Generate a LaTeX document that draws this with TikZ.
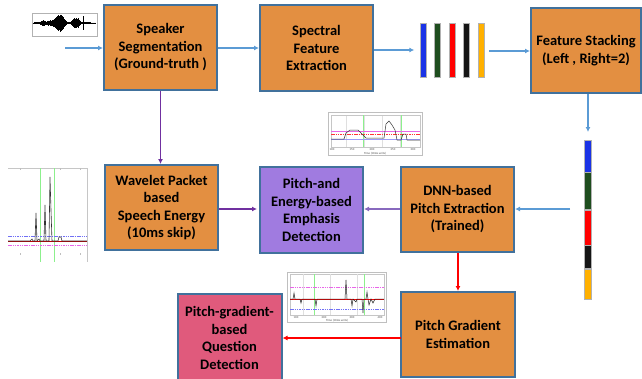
\documentclass[tikz,border=0pt]{standalone}
\usepackage{fontspec}
\setmainfont{Carlito}
\usetikzlibrary{arrows.meta}
\definecolor{boxorange}{HTML}{E38F41}
\definecolor{boxborder}{HTML}{41719C}
\definecolor{boxpurple}{HTML}{A07BE0}
\definecolor{boxpink}{HTML}{E05A7C}
\definecolor{arrblue}{HTML}{5B9BD5}
\definecolor{arrpurple}{HTML}{7030A0}
\definecolor{arrred}{HTML}{FF0000}
\definecolor{barblue}{HTML}{1A33E6}
\definecolor{bargreen}{HTML}{1E4D1E}
\definecolor{barred}{HTML}{FF0000}
\definecolor{barblack}{HTML}{151515}
\definecolor{barorange}{HTML}{FFB000}
\definecolor{plotgreen}{HTML}{8CF08C}
\definecolor{plotmag}{HTML}{E866E8}
\definecolor{plotblue}{HTML}{7070F5}
\tikzset{
  procbox/.style={draw=boxborder, line width=2pt, fill=boxorange, align=center,
    font=\bfseries\fontsize{14.5}{17.5}\selectfont, inner sep=2pt},
  barrow/.style={draw=arrblue, line width=1.6pt, -{Latex[length=5pt,width=5pt]}},
  parrow/.style={draw=arrpurple, line width=1.8pt, -{Latex[length=5pt,width=5pt]}},
  rarrow/.style={draw=arrred, line width=1.6pt, -{Latex[length=5pt,width=5pt]}},
  fbar/.style={draw=gray!60, line width=0.4pt, minimum width=6pt, minimum height=54pt, inner sep=0pt},
  vseg/.style={draw=gray!60, line width=0.4pt, minimum width=7pt, inner sep=0pt},
  plotframe/.style={draw=gray!50, line width=0.6pt, fill=white},
  tinylabel/.style={font=\fontsize{3}{3.5}\selectfont, inner sep=0pt, text=gray!60!black},
}
\begin{document}
\begin{tikzpicture}[x=1pt,y=-1pt]
\useasboundingbox (0,0) rectangle (642,378);

% ---------- boxes ----------
\node[procbox, minimum width=113pt, minimum height=85pt] (seg) at (160.5,47.5) {Speaker\\Segmentation\\(Ground-truth )};
\node[procbox, minimum width=113pt, minimum height=86pt] (spec) at (316.5,48) {Spectral\\Feature\\Extraction};
\node[procbox, minimum width=110pt, minimum height=85pt] (stack) at (586,50.5) {Feature Stacking\\(Left , Right=2)};
\node[procbox, minimum width=113pt, minimum height=85pt] (wav) at (161.5,207.5) {Wavelet Packet\\based\\Speech Energy\\(10ms skip)};
\node[procbox, fill=boxpurple, minimum width=103pt, minimum height=86pt] (emph) at (311.5,210) {Pitch-and\\Energy-based\\Emphasis\\Detection};
\node[procbox, minimum width=113pt, minimum height=85pt] (dnn) at (457.5,209.5) {DNN-based\\Pitch Extraction\\(Trained)};
\node[procbox, minimum width=114pt, minimum height=85pt] (grad) at (458,334.5) {Pitch Gradient\\Estimation};
\node[procbox, fill=boxpink, minimum width=104pt, minimum height=88pt, anchor=north] (ques) at (229.5,293) {Pitch-gradient-\\based\\Question\\Detection};

% ---------- feature bars ----------
\node[fbar, fill=barblue]   (b1) at (423.5,50) {};
\node[fbar, fill=bargreen]  (b2) at (437,50) {};
\node[fbar, fill=barred]    (b3) at (452,50) {};
\node[fbar, fill=barblack]  (b4) at (466.5,50) {};
\node[fbar, fill=barorange] (b5) at (481,50) {};

% ---------- stacked vertical bar ----------
\node[vseg, fill=barblue,   minimum height=32pt, anchor=north] (v1) at (587.5,140) {};
\node[vseg, fill=bargreen,  minimum height=37pt, anchor=north] (v2) at (v1.south) {};
\node[vseg, fill=barred,    minimum height=35pt, anchor=north] (v3) at (v2.south) {};
\node[vseg, fill=barblack,  minimum height=23pt, anchor=north] (v4) at (v3.south) {};
\node[vseg, fill=barorange, minimum height=30pt, anchor=north] (v5) at (v4.south) {};

% ---------- connectors ----------
\coordinate (in) at (65,48);
\draw[barrow] (in) -- (in -| seg.west);
\draw[barrow] (seg.east |- in) -- (spec.west |- in);
\draw[barrow] (spec.east |- 0,50) -- ([xshift=-6pt]b1.west |- 0,50);
\draw[barrow] ([xshift=5pt]b5.east |- 0,51) -- (stack.west |- 0,51);
\draw[barrow] (stack.south -| 588,0) -- ([yshift=8pt]v1.north -| 588,0);
\coordinate (vin) at (570,209);
\draw[barrow] (vin) -- (vin -| dnn.east);
\draw[parrow, draw=boxpurple!85!black] (dnn.west |- vin) -- (emph.east |- vin);
\draw[parrow] (seg.south) -- (wav.north -| seg.south);
\draw[parrow] (wav.east |- 0,209) -- ([xshift=-2pt]emph.west |- 0,209);
\draw[rarrow] (dnn.south -| 458,0) -- (grad.north -| 458,0);
\coordinate (gq) at (401,338);
\draw[rarrow] (gq) -- (gq -| ques.east);

% ---------- waveform thumbnail ----------
\draw[draw=gray!60, line width=0.6pt, fill=white] (32,13) rectangle (97,36);
\draw[line width=0.5pt] (33,23) -- (96,23);
\foreach \x/\a in {33/0.5,34/0.7,35/0.8,36/1,37/0.8,38/1,39/1,40/1.5,41/2,42/2.5,43/3,44/2.5,45/2,46/1.5,47/2,48/2.5,49/2,50/3,51/2.5,52/3,53/3.5,54/4,55/5,56/6,57/7,58/8,59/7,60/8.5,61/8,62/7,63/6,64/4,65/3,66/2,67/1,68/1,69/1.2,70/1,71/2,72/3,73/4,74/5,75/4.5,76/5,77/4,78/5,79/3,80/2,81/1,82/1,83/7,84/1,85/0.8,86/0.8,87/0.7,88/0.7,89/0.6,90/0.6,91/0.5,92/0.5,93/0.5,94/0.5,95/0.5}
  \draw[line width=0.9pt] (\x,{23-\a}) -- (\x,{23+\a});

% ---------- left energy plot ----------
\fill[white] (8,168) rectangle (87,262);
\draw[gray!45, line width=0.5pt] (8,168) -- (87,168) -- (87,262);
\foreach \x in {20,40,60,80} {\draw[gray!50, line width=0.4pt] (\x,168) -- (\x,170); \draw[gray!50, line width=0.4pt] (\x,253) -- (\x,255);}
\draw[plotgreen, line width=0.6pt] (40,168) -- (40,262);
\draw[plotgreen, line width=0.6pt] (54,168) -- (54,262);
\draw[plotblue, line width=0.7pt, dashed, dash pattern=on 1.5pt off 0.8pt] (8,236) -- (87,236);
\draw[plotmag, line width=0.7pt, dash pattern=on 1.5pt off 0.8pt] (8,245) -- (87,245);
\draw[red!75!black, line width=0.7pt] (8,241) -- (87,241);
\draw[gray!40!black, line width=0.6pt] (8,241) -- (30,241) -- (32,239) -- (33,241) -- (35,241) -- (36,213) -- (37,241) -- (39,239) -- (40,241) -- (44,241) -- (45,205) -- (46,241) -- (49,241) -- (50,177) -- (51,210) -- (52,241) -- (58,241) -- (59,237) -- (61,237) -- (62,241) -- (87,241);

% ---------- pitch plot (top) ----------
\draw[plotframe] (328,112) rectangle (422,155);
\foreach \x in {346,364,382,400} \draw[gray!25, line width=0.4pt] (\x,115) -- (\x,147);
\draw[gray!45, line width=0.4pt] (331,115) rectangle (420,147);
\draw[plotgreen, line width=0.6pt] (363,115) -- (363,147);
\draw[plotgreen, line width=0.6pt] (401,115) -- (401,147);
\draw[plotmag, line width=0.6pt] (331,131) -- (420,131);
\draw[red!80, line width=0.5pt, dash pattern=on 1.5pt off 0.8pt] (331,134) -- (420,134);
\draw[plotblue!70, line width=1pt] (331,139) -- (420,139);
\draw[gray!40!black, line width=0.5pt] (331,139) -- (344,139) -- (346,133) -- (350,130) -- (358,130) -- (362,134) -- (366,138) -- (384,138) -- (386,124) -- (389,121) -- (392,125) -- (395,130) -- (397,140) -- (401,140) -- (403,134) -- (406,134) -- (407,140) -- (420,140);
\node[tinylabel] (t2a) at (332,150) {100};
\node[tinylabel] (t2b) at (352,150) {150};
\node[tinylabel] (t2c) at (372,150) {200};
\node[tinylabel] (t2d) at (393,150) {250};
\node[tinylabel] (t2e) at (413,150) {300};
\node[tinylabel] (t2t) at (375,153.5) {Time (10ms units)};

% ---------- gradient plot (bottom) ----------
\draw[plotframe] (287,272) rectangle (386,322);
\draw[gray!45, line width=0.4pt] (290,274) rectangle (384,315);
\foreach \x in {303,330,357} \draw[gray!25, line width=0.4pt] (\x,274) -- (\x,315);
\draw[plotgreen, line width=0.6pt] (314,274) -- (314,315);
\draw[plotgreen, line width=0.6pt] (364,274) -- (364,315);
\draw[plotmag, line width=0.7pt, dash pattern=on 1.5pt off 0.8pt] (290,287) -- (384,287);
\draw[plotblue, line width=0.7pt, dash pattern=on 1.5pt off 0.8pt] (290,309) -- (384,309);
\draw[arrred, line width=1pt] (290,299) -- (384,299);
\draw[gray!30!black, line width=0.5pt] (290,299) -- (293,299) -- (294,293) -- (295,299) -- (300,299) -- (301,303) -- (302,299) -- (315,299) -- (316,306) -- (317,299) -- (345,299) -- (346,280) -- (347,299) -- (351,299) -- (352,306) -- (353,299) -- (356,302) -- (357,299) -- (362,299) -- (363,313) -- (364,299) -- (366,299) -- (367,292) -- (368,299) -- (369,305) -- (371,299) -- (373,303) -- (375,299) -- (384,299);
\node[tinylabel] (t3a) at (296,317.5) {100};
\node[tinylabel] (t3b) at (324,317.5) {200};
\node[tinylabel] (t3c) at (352,317.5) {300};
\node[tinylabel] (t3d) at (380,317.5) {400};
\node[tinylabel] (t3t) at (337,320.5) {Time (10ms units)};
\end{tikzpicture}
\end{document}
